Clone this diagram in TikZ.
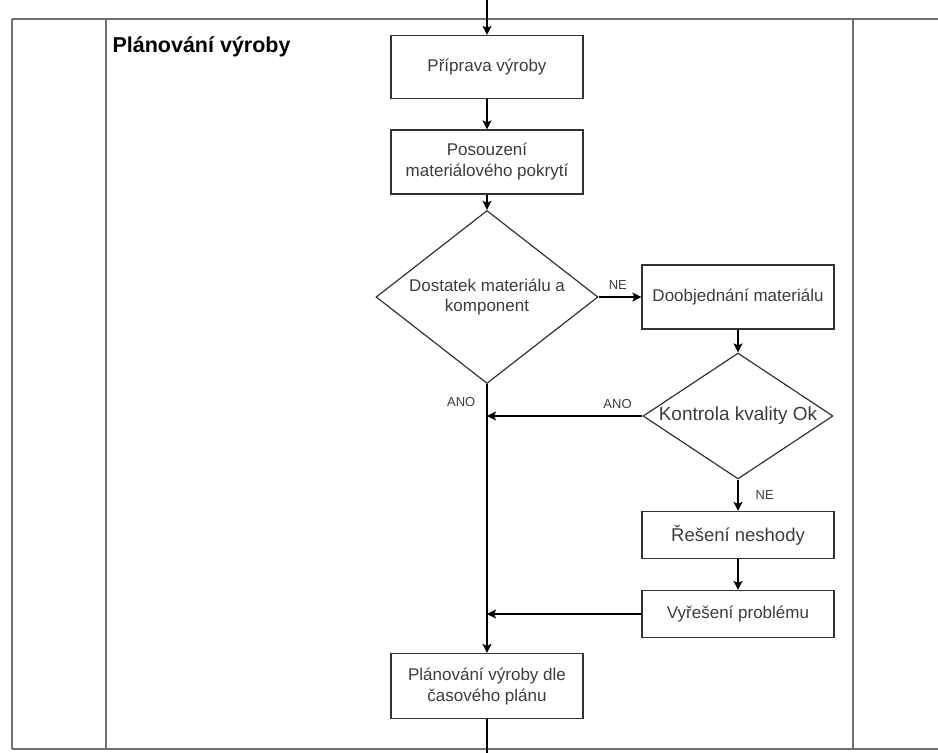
\documentclass[tikz,border=0pt]{standalone}
\usepackage{fontspec}
\setmainfont{Liberation Sans}
\usepackage{xcolor}
\usetikzlibrary{arrows.meta}
\usetikzlibrary{shapes}
\usetikzlibrary{calc}

\definecolor{laneline}{HTML}{707070}
\definecolor{boxline}{HTML}{333333}
\definecolor{boxtext}{HTML}{3C3C3C}

\begin{document}
\begin{tikzpicture}[x=1pt,y=-1pt,
    stepbox/.style={rectangle,draw=boxline,line width=1.2pt,minimum width=192pt,
                    align=center,text=boxtext,inner sep=2pt},
    decision/.style={diamond,draw=boxline,line width=1.2pt,inner sep=0pt,
                     align=center,text=boxtext},
    flowlabel/.style={text=boxtext,font=\fontsize{13}{15}\selectfont,inner sep=1pt}]
          \useasboundingbox (0,0) rectangle (938,753);
          \begin{scope}[laneline,line width=1.6pt]
            \draw (12,19) -- (938,19);
            \draw (12,749) -- (938,749);
            \draw (12,19) -- (12,749);
            \draw (106,19) -- (106,749);
            \draw (853,19) -- (853,749);
          \end{scope}
          \node[anchor=base west,font=\fontsize{21.5}{24}\selectfont\bfseries] (lane) at (109,52) {Plánování výroby};
          \coordinate (in) at (487,0);
          \coordinate (out) at (487,753);
          \begin{scope}[every node/.style={stepbox,font=\fontsize{17}{21}\selectfont}]
            \node[minimum height=63pt] (prip) at (487,67) {Příprava výroby};
            \node[minimum height=64pt] (pos) at (487,162) {Posouzení\\materiálového pokrytí};
            \node[minimum height=64pt] (dob) at (738,297) {Doobjednání materiálu};
            \node[minimum height=65pt] (plan) at (487,686) {Plánování výroby dle\\časového plánu};
          \end{scope}
          \begin{scope}[every node/.style={stepbox,font=\fontsize{18.5}{22}\selectfont}]
            \node[minimum height=47pt] (res) at (738,535) {Řešení neshody};
          \end{scope}
          \node[stepbox,font=\fontsize{17}{21}\selectfont,minimum height=47pt] (vyr) at (738,614) {Vyřešení problému};
          \node[decision,minimum width=222pt,minimum height=173pt,shape aspect=1.28,
                font=\fontsize{17}{20}\selectfont] (dost) at (487,297) {Dostatek materiálu a\\komponent};
          \node[decision,minimum width=190pt,minimum height=126pt,shape aspect=1.5,
                font=\fontsize{19}{22}\selectfont] (kval) at (738,416) {Kontrola kvality Ok};
          \coordinate (j1) at (dost.south |- kval.west);
          \coordinate (j2) at (dost.south |- vyr.west);
          \begin{scope}[every edge/.style={draw=black,line width=1.4pt,-{Stealth[length=9pt,width=9pt,inset=2pt]}}]
            \path (in) edge (prip);
            \path (prip) edge (pos);
            \path (pos) edge (dost);
            \path (dost.east) edge node[flowlabel,above=6pt,pos=0.45] {NE} (dob.west);
            \path (dob) edge (kval);
            \path (kval.west) edge node[flowlabel,above=6pt,pos=0.16] {ANO} (j1);
            \path (dost.south) edge node[flowlabel,left=10pt,pos=0.066] {ANO} (plan.north);
            \path (kval.south) edge node[flowlabel,right=16pt] {NE} (res.north);
            \path (res) edge (vyr);
            \path (vyr.west) edge (j2);
            \path (plan) edge[-] (out);
          \end{scope}
        \end{tikzpicture}
\end{document}
